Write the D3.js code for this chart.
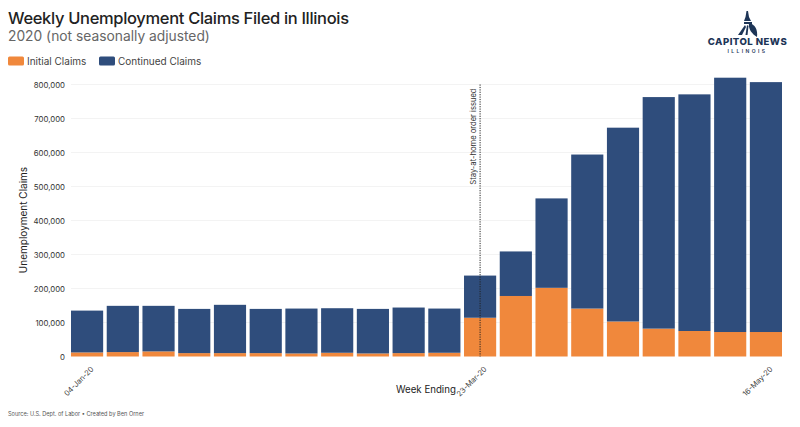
<!DOCTYPE html>
<html>
<head>
<meta charset="utf-8">
<script src="https://cdn.jsdelivr.net/npm/d3@7"></script>
<style>
  html, body { margin: 0; padding: 0; background: #fff; }
  text { font-family: Inter, Roboto, sans-serif; }
</style>
</head>
<body>
<div id="chart"></div>
<script>
// Week ending labels
var weeks = ["04-Jan-20", "11-Jan-20", "18-Jan-20", "25-Jan-20", "01-Feb-20", "08-Feb-20", "15-Feb-20",
             "22-Feb-20", "29-Feb-20", "07-Mar-20", "14-Mar-20", "23-Mar-20", "28-Mar-20", "04-Apr-20",
             "11-Apr-20", "18-Apr-20", "25-Apr-20", "02-May-20", "09-May-20", "16-May-20"];
var initialClaims = [12000, 13000, 15000, 10000, 10000, 10000, 9000, 11000, 9000, 10000, 11000,
                     114000, 178000, 202000, 141000, 103000, 82000, 75000, 72000, 72000];
var continuedClaims = [123000, 136000, 134000, 130000, 142000, 130000, 132000, 131000, 131000, 134000, 130000,
                       124000, 131000, 263000, 453000, 570000, 681000, 696000, 748000, 735000];
var yTicks = [0, 100000, 200000, 300000, 400000, 500000, 600000, 700000, 800000];
var xLabels = ["04-Jan-20", "23-Mar-20", "16-May-20"];
var orderWeek = "23-Mar-20";
var seriesNames = ["Initial Claims", "Continued Claims"];
var seriesColors = ["#f0883c", "#2f4d7c"];

var svgWidth = 800;
var svgHeight = 427;
var margin = {top: 84.5, right: 18, bottom: 70.5, left: 71};
var graphWidth = svgWidth - margin.left - margin.right;
var graphHeight = svgHeight - margin.top - margin.bottom;

var svg = d3.select("#chart")
    .append("svg")
        .attr("width", svgWidth)
        .attr("height", svgHeight)
        .style("display", "block");

var g = svg.append("g")
    .attr("transform", "translate(" + margin.left + "," + margin.top + ")");

var x = d3.scaleBand()
    .domain(weeks)
    .range([0, graphWidth])
    .paddingInner(0.1)
    .paddingOuter(0);

var y = d3.scaleLinear()
    .domain([0, 800000])
    .range([graphHeight, 0]);

// Gridlines
g.selectAll(".grid")
    .data(yTicks.slice(1))
    .enter()
    .append("line")
        .attr("x1", 0)
        .attr("x2", graphWidth)
        .attr("y1", function(d){ return y(d) })
        .attr("y2", function(d){ return y(d) })
        .style("stroke", "#f0f0f0")
        .style("stroke-width", 0.8);

// Stacked bars
var rows = weeks.map(function(w, i){
    return {week: w, initial: initialClaims[i], continued: continuedClaims[i]};
});
var stacked = d3.stack().keys(["initial", "continued"])(rows);

g.selectAll(".series")
    .data(stacked)
    .enter()
    .append("g")
        .style("fill", function(d, i){ return seriesColors[i] })
    .selectAll("rect")
    .data(function(d){ return d })
    .enter()
    .append("rect")
        .attr("x", function(d){ return x(d.data.week) })
        .attr("y", function(d){ return y(d[1]) })
        .attr("width", x.bandwidth())
        .attr("height", function(d){ return y(d[0]) - y(d[1]) });

// Y axis
var yAxis = g.append("g")
    .call(d3.axisLeft(y).tickValues(yTicks).tickFormat(d3.format(",")).tickSize(0).tickPadding(6));
yAxis.select(".domain").remove();
yAxis.selectAll("text")
    .attr("font-family", "Inter, Roboto, sans-serif")
    .attr("font-size", "7.8px")
    .attr("fill", "#333");

// X axis, only three labels are shown
var xAxis = g.append("g")
    .attr("transform", "translate(0," + graphHeight + ")")
    .call(d3.axisBottom(x).tickValues(xLabels).tickSize(0));
xAxis.select(".domain").remove();
xAxis.selectAll("text")
    .attr("font-family", "Inter, Roboto, sans-serif")
    .attr("font-size", "7.5px")
    .attr("fill", "#444")
    .attr("text-anchor", "end")
    .attr("dx", 0)
    .attr("dy", 0)
    .attr("transform", "translate(5,11) rotate(-45)");

// Stay-at-home marker
var orderX = x(orderWeek) + x.bandwidth() / 2;
g.append("line")
    .attr("x1", orderX)
    .attr("x2", orderX)
    .attr("y1", 0)
    .attr("y2", graphHeight)
    .style("stroke", "#222")
    .style("stroke-width", 1)
    .style("stroke-dasharray", "1.2,1.2");
g.append("text")
    .attr("transform", "translate(" + (orderX - 4) + ",4) rotate(-90)")
    .attr("text-anchor", "end")
    .attr("font-size", "7.6px")
    .attr("fill", "#333")
    .text("Stay-at-home order issued");

// Axis titles
svg.append("text")
    .attr("transform", "translate(27,220) rotate(-90)")
    .attr("text-anchor", "middle")
    .attr("font-size", "10px")
    .attr("fill", "#222")
    .text("Unemployment Claims");
svg.append("text")
    .attr("x", 396)
    .attr("y", 393)
    .attr("font-size", "9.7px")
    .attr("fill", "#222")
    .text("Week Ending");

// Title block
svg.append("text")
    .attr("x", 8)
    .attr("y", 23.5)
    .attr("font-size", "16.5px")
    .attr("font-weight", 500)
    .attr("letter-spacing", "-0.33px")
    .attr("fill", "#222")
    .text("Weekly Unemployment Claims Filed in Illinois");
svg.append("text")
    .attr("x", 8)
    .attr("y", 41)
    .attr("font-size", "13.8px")
    .attr("fill", "#666")
    .text("2020 (not seasonally adjusted)");

// Legend
var legendX = [8, 99];
seriesNames.forEach(function(name, i){
    svg.append("rect")
        .attr("x", legendX[i])
        .attr("y", 56.5)
        .attr("width", 16)
        .attr("height", 9)
        .attr("rx", 1.5)
        .style("fill", seriesColors[i]);
    svg.append("text")
        .attr("x", legendX[i] + 19)
        .attr("y", 64.5)
        .attr("font-size", "10px")
        .attr("fill", "#444")
        .text(name);
});

// Source
svg.append("text")
    .attr("x", 8)
    .attr("y", 416)
    .attr("font-size", "5.6px")
    .attr("fill", "#555")
    .text("Source: U.S. Dept. of Labor \u2022 Created by Ben Orner");

// Logo
var logo = svg.append("g").style("fill", "#1d3557");
logo.append("path").attr("d", "M746.5 11 L748 11 L749 17 L751 21 L744 21 L745.5 17 Z");
logo.append("path").attr("d", "M744 22 L752 22 L752 24 L744 24 Z");
logo.append("path").attr("d", "M745 25 L738 35 L742 35 L746 27 Z");
logo.append("path").attr("d", "M747 25 L745.5 35 L747.5 35 L748.5 26 Z");
logo.append("path").attr("d", "M749 23 C755 24 758 30 757 37 C752 34 748 29 749 23 Z");
logo.append("text")
    .attr("x", 747.5)
    .attr("y", 44.5)
    .attr("text-anchor", "middle")
    .attr("font-size", "9.6px")
    .attr("font-weight", 800)
    .attr("letter-spacing", "0.45px")
    .text("CAPITOL NEWS");
logo.append("text")
    .attr("x", 747.5)
    .attr("y", 52.5)
    .attr("text-anchor", "middle")
    .attr("font-size", "5px")
    .attr("font-weight", 600)
    .attr("letter-spacing", "2.4px")
    .text("ILLINOIS");
</script>
</body>
</html>
